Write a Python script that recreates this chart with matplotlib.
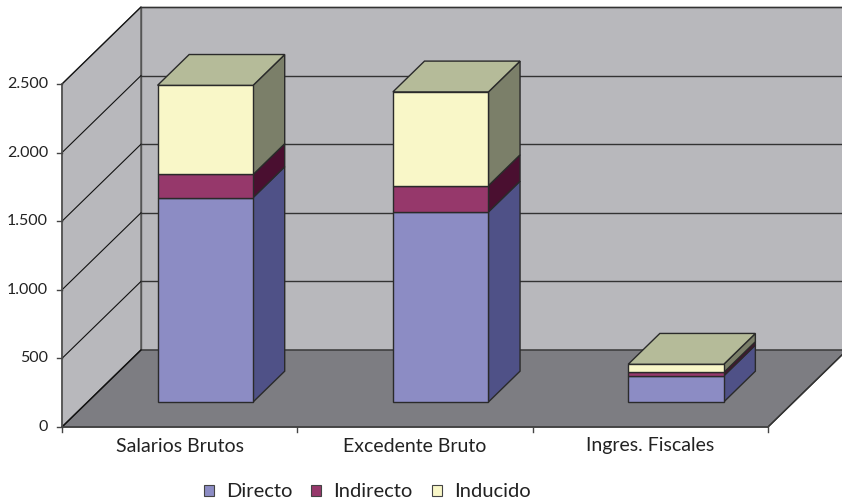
import matplotlib
matplotlib.use("Agg")
import matplotlib.pyplot as plt
from matplotlib.patches import Polygon, Patch

categories = ['Salarios Brutos', 'Excedente Bruto', 'Ingres. Fiscales']
series_names = ['Directo', 'Indirecto', 'Inducido']
directo = [1490, 1385, 190]
indirecto = [168, 192, 25]
inducido = [650, 683, 60]
yticks = [0, 500, 1000, 1500, 2000, 2500]
ytick_labels = ['0', '500', '1.000', '1.500', '2.000', '2.500']

front_cols = ['#8c8cc4', '#96386b', '#f9f7c8']
side_cols = ['#4f5187', '#4a0f30', '#7b7f69']
top_col = '#b5bb99'
wall_col = '#b8b8bc'
floor_col = '#7d7d82'
edge = '#2a2a2a'

plt.rcParams['font.family'] = ['Lato', 'DejaVu Sans']

W, H = 842, 504
fig = plt.figure(figsize=(W / 100, H / 100), dpi=100)
ax = fig.add_axes([0, 0, 1, 1])
ax.set_axis_off()

# pixel geometry -> data limits
x0px, catpx = 62, 235.33
y0px_b, vscale = 77, 343 / 2500
ax.set_xlim(-x0px / catpx, (W - x0px) / catpx)
ax.set_ylim(-y0px_b / vscale, (H - y0px_b) / vscale)

ncat = len(categories)
ymax = 2500
DX = 79 / catpx
DY = 77 / vscale


def P(x, v, d):
    return (x + DX * d, v + DY * d)


def poly(pts, fc, lw=1.0, ec=edge, z=1):
    ax.add_patch(Polygon(pts, closed=True, facecolor=fc, edgecolor=ec, lw=lw, zorder=z, joinstyle='miter'))


# side wall
poly([P(0, 0, 0), P(0, ymax, 0), P(0, ymax, 1), P(0, 0, 1)], wall_col, lw=1.0, ec='#555555')
# back wall
poly([P(0, 0, 1), P(0, ymax, 1), P(ncat + 0.5, ymax, 1), P(ncat + 0.5, 0, 1)], wall_col, lw=1.0, ec='#555555')
# floor
poly([P(0, 0, 0), P(ncat, 0, 0), P(ncat, 0, 1), P(0, 0, 1)], floor_col, lw=1.0, ec='#333333')
ax.plot(*zip(P(0, 0, 0), P(0, 0, 1)), color='#111111', lw=0.9, zorder=2)
ax.plot(*zip(P(ncat, 0, 0), P(ncat, 0, 1)), color='#333333', lw=1.0, zorder=2)

# gridlines
for t in yticks[1:]:
    ax.plot(*zip(P(0, t, 0), P(0, t, 1)), color='#111111', lw=0.8, zorder=2)
    ax.plot(*zip(P(0, t, 1), P(ncat + 0.5, t, 1)), color='#333333', lw=1.0, zorder=2)
ax.plot(*zip(P(0, 0, 0), P(0, ymax, 0)), color='#555555', lw=1.2, zorder=2)
ax.plot(*zip(P(0, 0, 0), P(ncat, 0, 0)), color='#444444', lw=1.2, zorder=2)

# y tick labels and ticks
for t, lab in zip(yticks, ytick_labels):
    ax.plot([-5 / catpx, 0], [t, t], color='#444444', lw=1.0, zorder=2)
    ax.text(-14 / catpx, t, lab, ha='right', va='center', fontsize=11.5, color='#222222')

# x ticks and labels
for i in range(ncat + 1):
    ax.plot([i, i], [0, -5 / vscale], color='#444444', lw=1.0, zorder=2)
for i, c in enumerate(categories):
    ax.text(i + 0.5, -19 / vscale, c, ha='center', va='center', fontsize=14, color='#222222')

# bars
bw = 0.406
f0, f1 = 0.325, 0.725
for i in range(ncat):
    xl, xr = i + 0.5 - bw / 2, i + 0.5 + bw / 2
    vals = [directo[i], indirecto[i], inducido[i]]
    base = 0
    for k, v in enumerate(vals):
        top = base + v
        poly([P(xr, base, f0), P(xr, base, f1), P(xr, top, f1), P(xr, top, f0)], side_cols[k], z=3)
        poly([P(xl, base, f0), P(xr, base, f0), P(xr, top, f0), P(xl, top, f0)], front_cols[k], z=3)
        base = top
    poly([P(xl, base, f0), P(xr, base, f0), P(xr, base, f1), P(xl, base, f1)], top_col, z=3)

handles = [Patch(facecolor=c, edgecolor='#444444', lw=0.8) for c in front_cols]
fig.legend(handles, series_names, loc='center', bbox_to_anchor=(0.436, 0.024), ncol=3,
           frameon=False, fontsize=14.5, handlelength=0.5, handleheight=0.5,
           handletextpad=0.6, columnspacing=0.95, labelcolor='#222222')

fig.savefig('out.png', dpi=100)
